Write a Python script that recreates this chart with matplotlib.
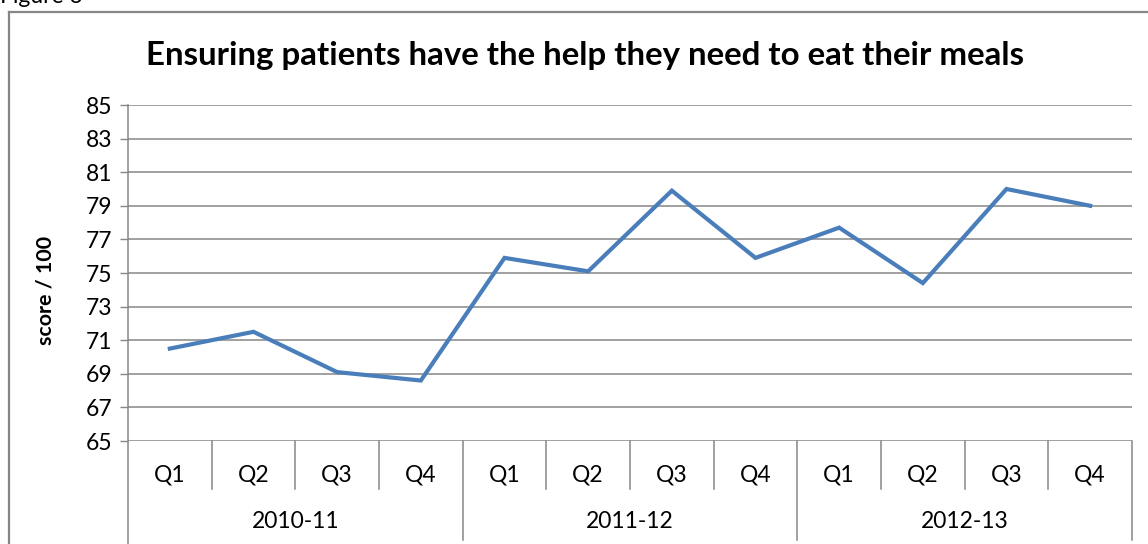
import matplotlib
matplotlib.use("Agg")
import matplotlib.pyplot as plt
from matplotlib.lines import Line2D
import matplotlib.transforms as mtransforms

plt.rcParams['font.family'] = ['Lato', 'DejaVu Sans']

quarters = ["Q1", "Q2", "Q3", "Q4"] * 3
years = ["2010-11", "2011-12", "2012-13"]
scores = [70.5, 71.5, 69.1, 68.6, 75.9, 75.1, 79.9, 75.9, 77.7, 74.4, 80.0, 79.0]
yticks = list(range(65, 86, 2))
title = "Ensuring patients have the help they need to eat their meals"
ylabel = "score / 100"

W, H = 1148, 544
fig = plt.figure(figsize=(W / 100, H / 100), dpi=100)
fig.patch.set_facecolor("white")

def fx(px):
    return px / W

def fy(py):
    return 1 - py / H

grey = "#868686"
ax = fig.add_axes([fx(128), fy(441), fx(1132) - fx(128), fy(105) - fy(441)])
x = list(range(len(scores)))
ax.plot(x, scores, color="#4A7EBB", lw=3.0, solid_joinstyle="miter", zorder=3)
ax.set_xlim(-0.5, len(scores) - 0.5)
ax.set_ylim(65, 85)
ax.set_yticks(yticks)
ax.set_yticklabels([str(t) for t in yticks], fontsize=16.5)
ax.tick_params(axis="y", length=6, width=1.0, color=grey, pad=5, direction="out")
ax.set_xticks([])
for s in ax.spines.values():
    s.set_visible(False)
for t in yticks:
    ax.axhline(t, color=grey, lw=1.1, zorder=1)

trans = mtransforms.blended_transform_factory(ax.transData, ax.transAxes)
ph = 441 - 105
short_end = -(489 - 441) / ph
long_end = -(540 - 441) / ph
for k in range(1, len(scores) + 1):
    xb = k - 0.5
    y0 = long_end if k % 4 == 0 else short_end
    ax.plot([xb, xb], [0, y0], color=grey, lw=1.1, transform=trans, clip_on=False)
for i, q in enumerate(quarters):
    ax.text(i, -(475 - 441) / ph, q, transform=trans, ha="center", va="center", fontsize=16.5)
for j, yr in enumerate(years):
    ax.text(4 * j + 1.5, -(522 - 441) / ph, yr, transform=trans, ha="center", va="center", fontsize=16.5)

# left axis line extends down through the category labels
fig.add_artist(Line2D([fx(128), fx(128)], [fy(105), fy(544)], color=grey, lw=1.1))
# chart border
fig.add_artist(Line2D([fx(9), fx(9)], [fy(12), fy(544)], color=grey, lw=1.6))
fig.add_artist(Line2D([fx(9), fx(1148)], [fy(12), fy(12)], color=grey, lw=1.6))

fig.text(fx(585), fy(55), title, ha="center", va="center", fontsize=23.8, fontweight="bold")
fig.text(fx(45), fy(290), ylabel, ha="center", va="center", rotation=90, fontsize=15.4, fontweight="bold")
fig.text(fx(0), fy(3), "Figure 3", ha="left", va="baseline", fontsize=16.5)

fig.savefig("out.png", dpi=100, facecolor="white")
